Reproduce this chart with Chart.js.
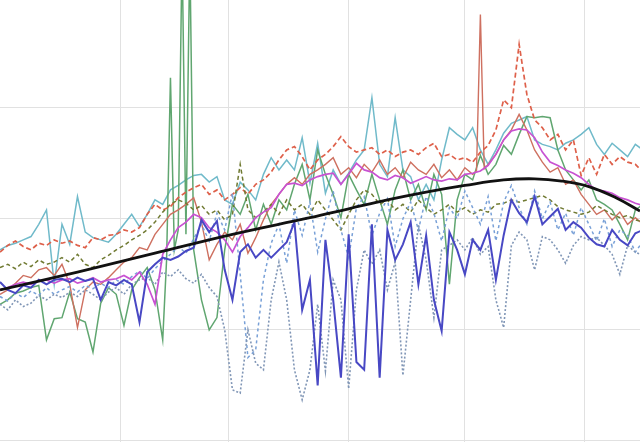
<!DOCTYPE html>
<html lang="en">
<head>
    <meta charset="UTF-8">
    <script src="https://cdn.jsdelivr.net/npm/chart.js@4.4.1/dist/chart.umd.min.js"></script>
    <title>trend</title>
    <style>
        html, body { margin: 0; padding: 0; background: #fff; }
        #wrap { width: 640px; height: 442px; }
    </style>
</head>
<body>
<div id="wrap"><canvas id="trendChart"></canvas></div>
<script>
    // day of year (0 = 1 Jan), one sample every two days
    const days = [0,2,4,6,8,10,12,14,16,18,20,22,24,26,28,30,32,34,36,38,40,42,
        44,46,48,50,52,54,56,58,60,62,64,66,68,70,72,74,76,78,80,82,84,86,88,90,
        92,94,96,98,100,102,104,106,108,110,112,114,116,118,120,122,124,126,128,130,
        132,134,136,138,140,142,144,146,148,150,152,154,156,158,160,162,164,166];
    // green and red have daily samples around their spikes
    const greenDays = [0,2,4,6,8,10,12,14,16,18,20,22,24,26,28,30,32,34,36,38,40,42,
        43,44,45,46,47,48,49,50,
        52,54,56,58,60,62,64,66,68,70,72,74,76,78,80,82,84,86,88,90,
        92,94,96,98,100,102,104,106,108,110,112,114,116,118,120,122,124,126,128,130,
        132,134,136,138,140,142,144,146,148,150,152,154,156,158,160,162,164,166];
    const redDays = [0,2,4,6,8,10,12,14,16,18,20,22,24,26,28,30,32,34,36,38,40,42,
        44,46,48,50,52,54,56,58,60,62,64,66,68,70,72,74,76,78,80,82,84,86,88,90,
        92,94,96,98,100,102,104,106,108,110,112,114,116,118,120,122,123,124,125,126,128,130,
        132,134,136,138,140,142,144,146,148,150,152,154,156,158,160,162,164,166];
    const trendDays = [0,20,40,60,80,90,100,110,120,130,138,145,152,159,165.2];
    const monthStarts = [31,59,90,120,151];

    const trend = [13.6,15.2,16.9,18.6,20.1,20.9,21.7,22.4,23.0,23.5,23.6,23.4,22.9,21.9,20.7];

    const blue = [14.3,13.6,13.3,14.0,13.8,14.5,14.1,14.5,14.6,14.3,14.7,14.4,14.6,12.7,14.3,14.0,14.5,14.1,10.7,15.2,15.9,16.5,
        16.3,16.6,17.1,17.4,19.9,18.8,19.8,15.4,12.7,17.0,
        17.7,16.5,17.2,16.5,17.2,17.9,19.7,11.8,14.5,5.0,
        18.1,12.7,5.7,18.6,7.1,6.4,19.5,5.7,19.0,16.3,
        17.7,19.7,14.1,18.5,12.7,9.9,18.8,17.2,15.0,18.1,
        17.2,19.0,14.5,18.5,21.7,20.5,19.7,22.0,19.5,20.2,
        20.9,19.0,19.7,19.2,18.3,17.7,17.5,19.0,18.1,17.6,
        18.7,19.0];

    const cyan = [17.2,17.6,17.8,18.1,18.4,19.5,20.8,14.1,19.5,17.7,22.0,18.8,18.3,18.1,17.9,18.6,19.5,20.4,19.3,20.4,21.7,21.3,
        22.6,23.0,23.5,23.9,24.0,23.3,23.8,21.7,21.3,23.3,
        22.6,21.7,24.0,25.5,24.4,25.3,24.4,27.3,23.2,26.8,
        22.3,24.4,23.1,24.1,25.3,26.2,30.9,24.9,23.8,29.1,
        24.4,23.8,21.7,23.1,21.7,25.3,28.2,27.6,27.1,28.2,
        26.2,24.9,26.2,27.7,28.6,28.9,29.2,27.1,26.7,26.5,
        26.2,26.8,27.1,27.6,28.2,26.7,25.8,26.8,26.2,25.6,
        26.7,26.2];

    const redDash = [17.0,17.6,18.0,17.5,17.2,17.8,17.6,18.1,17.8,18.0,17.6,17.4,18.3,18.1,18.5,18.6,19.0,18.8,19.2,20.4,21.3,20.8,
        21.1,21.9,22.4,22.8,23.1,22.2,22.6,21.7,22.2,22.8,
        22.2,23.1,23.5,24.2,25.3,26.2,26.5,25.6,24.4,25.3,
        25.8,26.5,27.4,26.5,26.0,26.2,26.4,25.8,26.2,25.6,
        26.0,26.2,25.8,26.4,26.8,25.6,25.8,25.3,25.5,25.1,
        26.0,26.6,28.0,30.7,30.0,35.7,31.2,28.9,28.2,27.1,
        27.6,26.2,27.1,23.9,25.5,24.0,25.8,24.9,25.6,25.1,
        24.9,24.2];

    const redSolid = [13.2,13.6,14.2,14.9,14.7,15.4,15.6,14.9,15.9,14.1,10.2,13.6,14.3,14.1,14.7,15.4,16.1,16.5,17.4,17.2,18.6,19.5,
        20.4,20.8,21.3,21.9,19.7,16.3,17.7,18.8,18.1,19.5,
        16.9,18.3,19.9,21.3,22.2,23.1,23.7,23.1,24.0,24.4,
        24.9,25.5,24.0,24.6,23.7,24.9,24.2,25.3,24.0,24.6,
        23.7,25.1,24.4,24.0,24.9,23.7,24.4,23.5,24.6,24.0,
        24.3,38.4,24.5,
        24.9,25.8,27.1,28.0,29.4,28.0,26.2,25.1,24.2,24.6,
        23.1,23.5,22.2,21.3,20.4,20.8,19.9,20.6,19.5,20.1,
        19.5];

    const green = [12.3,12.7,13.3,13.5,13.8,14.0,9.1,11.0,11.1,13.4,11.0,10.7,8.0,12.4,13.8,13.2,10.4,13.6,14.7,15.6,13.6,9.1,
        16.3,32.7,17.2,19.0,44.2,18.6,44.2,17.2,
        12.7,10.0,11.1,17.2,21.3,20.4,22.2,19.0,21.3,19.5,
        21.7,20.8,23.1,24.9,21.7,26.2,24.0,22.2,20.1,24.0,
        22.6,21.3,24.0,21.7,19.5,22.6,24.4,21.7,23.1,20.8,
        24.0,22.2,14.1,21.7,24.0,23.5,25.7,24.0,24.9,26.6,
        25.8,27.6,29.2,29.1,29.2,29.1,26.2,24.4,23.5,22.6,
        23.5,21.7,21.3,20.8,19.5,18.1,20.8,21.3];

    const magenta = [13.6,13.8,14.1,14.3,14.1,14.4,14.5,14.2,14.5,14.6,14.2,14.4,14.7,14.3,14.5,14.6,14.9,14.5,15.2,14.1,12.3,16.8,
        18.1,19.2,19.7,20.4,20.1,19.2,18.8,18.1,17.0,18.4,
        19.2,20.1,20.6,21.0,22.2,23.1,23.2,23.0,23.5,23.8,
        24.0,24.1,23.1,24.0,25.0,24.4,24.2,23.7,23.5,23.9,
        23.7,23.2,23.5,23.8,23.5,23.4,23.6,23.5,24.0,24.1,
        24.3,24.8,25.8,27.1,27.9,28.1,28.0,27.3,26.0,25.1,
        24.8,24.4,24.1,23.7,23.1,22.6,22.5,22.3,21.9,21.7,
        21.4,21.2];

    const olive = [15.6,15.9,15.5,16.1,15.7,16.3,15.9,16.1,16.5,16.1,16.8,15.9,15.6,16.3,16.7,17.2,17.6,18.1,18.5,19.0,19.7,20.6,
        21.3,21.7,21.4,20.8,21.2,20.4,20.8,19.9,20.4,24.9,
        20.8,20.1,20.6,21.3,20.4,21.7,20.8,21.3,20.4,21.7,
        20.8,19.9,19.0,20.4,21.7,22.6,22.2,21.3,21.7,20.8,
        21.3,20.6,21.7,21.0,20.4,20.8,21.3,20.6,21.0,20.4,
        20.8,20.6,21.3,21.4,21.7,21.5,21.7,21.9,22.1,21.7,
        21.1,20.8,20.6,20.4,20.6,21.2,20.8,20.4,20.1,20.3,
        19.9,19.7];

    const grayDot = [12.3,11.8,12.7,12.1,12.4,13.1,12.7,13.2,12.9,13.4,13.0,13.6,13.2,12.7,13.4,13.8,13.2,14.1,14.5,14.7,14.1,15.2,
        14.8,15.4,14.6,14.2,15.0,13.8,13.0,10.0,4.6,4.3,
        10.0,7.0,6.4,12.7,16.1,12.7,6.4,3.7,6.4,12.3,
        6.3,14.5,12.7,4.7,13.6,17.2,15.9,17.2,13.6,16.1,
        5.9,12.7,19.5,16.3,11.1,17.2,17.6,18.1,17.2,18.3,
        16.8,17.5,12.7,10.2,17.6,18.8,18.1,15.4,18.4,18.1,
        17.2,16.0,17.6,18.4,18.1,18.3,17.6,16.8,15.0,17.6,
        17.0,16.7];

    const lightDash = [13.0,12.6,13.3,12.9,13.5,13.1,13.8,13.2,13.6,13.9,13.4,14.0,13.7,14.2,13.8,14.5,14.1,14.8,15.3,14.6,15.5,16.2,
        16.8,17.5,16.9,18.2,19.5,18.0,20.5,19.0,22.3,15.0,
        7.5,8.2,14.5,17.8,19.5,16.0,20.8,18.5,21.5,17.0,
        20.0,22.5,19.0,16.5,21.0,22.0,18.5,20.5,21.8,17.5,
        20.0,21.5,19.0,22.0,20.5,18.0,21.0,20.0,22.5,21.0,
        19.5,22.0,18.0,21.5,23.0,21.0,19.5,22.5,20.0,21.5,
        19.0,20.5,18.5,21.0,19.5,18.0,20.0,17.5,19.0,18.5,
        17.0,18.0];

    function pairs(xs, ys) {
        return ys.map((y, i) => ({ x: xs[i], y: y }));
    }

    function line(data, color, width, dash) {
        return {
            data: data,
            borderColor: color,
            borderWidth: width,
            borderDash: dash || [],
            pointRadius: 0,
            tension: 0,
            fill: false,
        };
    }

    // smooth fitted curve on top
    const trendSet = line(pairs(trendDays, trend), '#111111', 2.8);
    trendSet.tension = 0.4;

    const ctx = document.getElementById('trendChart');
    new Chart(ctx, {
        type: 'line',
        data: {
            datasets: [
                trendSet,
                line(pairs(days, blue), 'rgb(72,72,196)', 2),
                line(pairs(days, magenta), 'rgb(200,82,210)', 1.7),
                line(pairs(days, grayDot), 'rgb(128,150,182)', 1.6, [2, 2]),
                line(pairs(days, lightDash), 'rgb(120,160,215)', 1.5, [3, 3]),
                line(pairs(days, olive), 'rgb(112,122,50)', 1.5, [4, 3]),
                line(pairs(days, redDash), 'rgb(222,96,74)', 1.7, [5, 3]),
                line(pairs(redDays, redSolid), 'rgb(206,112,96)', 1.4),
                line(pairs(greenDays, green), 'rgb(96,166,112)', 1.5),
                line(pairs(days, cyan), 'rgb(112,186,202)', 1.5),
            ]
        },
        options: {
            responsive: true,
            maintainAspectRatio: false,
            animation: false,
            layout: { padding: 0 },
            plugins: {
                legend: { display: false },
                tooltip: { enabled: false },
            },
            scales: {
                x: {
                    type: 'linear',
                    min: 0,
                    max: 165.2,
                    afterBuildTicks: (axis) => {
                        axis.ticks = monthStarts.map(v => ({ value: v }));
                    },
                    ticks: { display: false },
                    grid: { color: '#e1e1e1', drawTicks: false },
                    border: { display: false },
                },
                y: {
                    min: -0.1,
                    max: 39.7,
                    ticks: { display: false, stepSize: 10, includeBounds: false },
                    grid: { color: '#e1e1e1', drawTicks: false },
                    border: { display: false },
                },
            },
        },
    });
</script>
</body>
</html>
